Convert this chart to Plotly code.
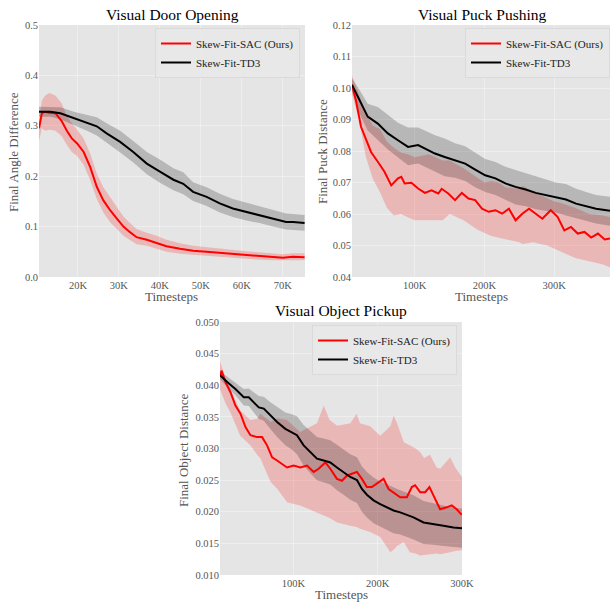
import plotly.graph_objects as go

# ---------------- data (x in thousands of timesteps) ----------------
door_sac_x = [10.5, 11.2, 12, 13, 14.5, 16, 17.3, 18.5, 19.8, 21.4, 23, 24.6, 26.2, 27.9, 29.5, 31.1,
              32.7, 34.3, 36.8, 39.2, 41.6, 44.9, 48.1, 51.4, 54.6, 57.8, 61.1, 64.3, 67.6, 70, 72.4, 75.3]
door_sac_y = [0.295, 0.325, 0.328, 0.326, 0.325, 0.31, 0.29, 0.275, 0.265, 0.248, 0.218, 0.179, 0.152,
              0.132, 0.116, 0.1, 0.089, 0.079, 0.074, 0.068, 0.061, 0.056, 0.052, 0.05, 0.048, 0.045,
              0.043, 0.041, 0.04, 0.038, 0.04, 0.039]
door_sac_hi = [0.31, 0.35, 0.36, 0.365, 0.36, 0.345, 0.32, 0.305, 0.292, 0.275, 0.245, 0.205, 0.178,
               0.157, 0.138, 0.12, 0.107, 0.095, 0.088, 0.082, 0.074, 0.067, 0.062, 0.059, 0.057, 0.054,
               0.051, 0.049, 0.047, 0.045, 0.047, 0.047]
door_sac_lo = [0.27, 0.295, 0.29, 0.292, 0.29, 0.28, 0.262, 0.248, 0.24, 0.222, 0.192, 0.155, 0.128,
               0.108, 0.095, 0.082, 0.073, 0.065, 0.062, 0.056, 0.05, 0.046, 0.043, 0.042, 0.04, 0.038,
               0.036, 0.034, 0.033, 0.032, 0.033, 0.033]

door_td3_x = [10.5, 13.3, 15.7, 19, 22.2, 24.6, 27, 30.3, 33.5, 36.8, 40, 43.3, 45.7, 48.1, 51.4, 54.6,
              57.8, 61.1, 64.3, 67.6, 70.8, 72.5, 75.3]
door_td3_y = [0.328, 0.328, 0.325, 0.315, 0.306, 0.299, 0.285, 0.268, 0.248, 0.225, 0.209, 0.193, 0.185,
              0.169, 0.159, 0.146, 0.136, 0.129, 0.123, 0.116, 0.109, 0.109, 0.107]
door_td3_hi = [0.338, 0.338, 0.337, 0.328, 0.322, 0.317, 0.305, 0.29, 0.27, 0.248, 0.233, 0.216, 0.208,
               0.188, 0.178, 0.165, 0.155, 0.148, 0.141, 0.134, 0.126, 0.125, 0.123]
door_td3_lo = [0.318, 0.318, 0.313, 0.302, 0.29, 0.281, 0.266, 0.247, 0.227, 0.204, 0.187, 0.172, 0.164,
               0.151, 0.141, 0.128, 0.119, 0.112, 0.107, 0.1, 0.094, 0.094, 0.092]

puck_sac_x = [10, 15.7, 22.9, 30.1, 37.3, 47, 56.6, 66.3, 75.9, 80.7, 85.5, 95.2, 104.8, 114.5, 124,
              133.7, 138.6, 148, 157.8, 167.5, 177, 186.7, 196.4, 206, 215.7, 225.3, 235, 244.6, 254.2,
              263.9, 273.5, 283, 295, 304.8, 314.5, 324, 333.7, 343.4, 353, 362.7, 372.3, 380]
puck_sac_y = [0.101, 0.096, 0.0877, 0.0834, 0.0797, 0.0766, 0.0734, 0.0691, 0.0713, 0.0718, 0.0697,
              0.0699, 0.0681, 0.0667, 0.0675, 0.0665, 0.068, 0.0665, 0.0644, 0.0667, 0.0649, 0.0644,
              0.0617, 0.0607, 0.0612, 0.0601, 0.0617, 0.058, 0.0601, 0.0617, 0.0601, 0.0585, 0.0612,
              0.0591, 0.0548, 0.0559, 0.0538, 0.0543, 0.0525, 0.0538, 0.0519, 0.0522]
puck_sac_band_x = [10, 20, 30, 40, 50, 60, 70, 80, 90, 100, 120, 140, 150, 170, 180, 190, 200, 210, 220,
                   230, 250, 255, 270, 280, 290, 300, 310, 330, 350, 370, 380]
puck_sac_hi = [0.104, 0.098, 0.092, 0.088, 0.087, 0.083, 0.081, 0.0795, 0.079, 0.078, 0.079, 0.077,
               0.077, 0.0745, 0.073, 0.0715, 0.070, 0.0705, 0.070, 0.0685, 0.068, 0.069, 0.067, 0.066,
               0.065, 0.064, 0.0635, 0.062, 0.060, 0.0595, 0.059]
puck_sac_lo = [0.098, 0.09, 0.078, 0.071, 0.067, 0.062, 0.0595, 0.06, 0.059, 0.058, 0.058, 0.058, 0.06,
               0.058, 0.0565, 0.055, 0.054, 0.053, 0.0525, 0.052, 0.051, 0.0505, 0.051, 0.0505, 0.05,
               0.049, 0.048, 0.046, 0.045, 0.044, 0.043]

puck_td3_x = [10, 20.5, 32.5, 47, 61.4, 75.9, 90.4, 104.8, 114.5, 129, 143, 157.8, 172.3, 186.7, 201,
              215.7, 230, 244.6, 259, 273.5, 288, 302.4, 316.9, 331.3, 345.8, 360, 380]
puck_td3_y = [0.101, 0.0962, 0.0909, 0.0887, 0.0856, 0.0834, 0.0813, 0.0819, 0.0808, 0.0792, 0.0781,
              0.0771, 0.076, 0.0741, 0.0723, 0.0713, 0.0697, 0.0686, 0.0678, 0.0667, 0.066, 0.0654,
              0.0646, 0.0633, 0.0625, 0.0617, 0.061]
puck_td3_hi = [0.103, 0.0995, 0.095, 0.094, 0.0915, 0.089, 0.0875, 0.0875, 0.0865, 0.085, 0.084, 0.0825,
               0.0815, 0.0795, 0.0775, 0.0765, 0.075, 0.074, 0.073, 0.072, 0.071, 0.070, 0.0695, 0.068,
               0.067, 0.066, 0.0655]
puck_td3_lo = [0.099, 0.092, 0.0865, 0.0835, 0.0805, 0.078, 0.0755, 0.076, 0.075, 0.0735, 0.072, 0.0715,
               0.0705, 0.0685, 0.067, 0.066, 0.0645, 0.063, 0.0625, 0.0615, 0.061, 0.0605, 0.0595,
               0.0585, 0.0578, 0.057, 0.0563]

pick_sac_x = [13, 14.8, 19.5, 25.4, 31.3, 37.3, 43.2, 49.1, 57, 62.9, 68.8, 74.8, 80.7, 86.6, 92.5, 100.4,
              108.3, 116.2, 124.1, 130, 137.9, 143.8, 151.7, 157.6, 163.5, 169.5, 175.4, 181.3, 187.2,
              193.1, 201, 207, 212.9, 218.8, 226.7, 234.6, 240.5, 244.4, 250.4, 256.3, 261.4, 266.1,
              274, 281.9, 287.8, 293.7, 299.7]
pick_sac_y = [0.0413, 0.0423, 0.0405, 0.0389, 0.0368, 0.0355, 0.0334, 0.0321, 0.0318, 0.0318, 0.0305,
              0.0286, 0.0281, 0.0276, 0.027, 0.0273, 0.027, 0.0273, 0.0263, 0.0268, 0.0278, 0.0268,
              0.0252, 0.0249, 0.0257, 0.026, 0.0263, 0.0252, 0.0239, 0.0239, 0.0247, 0.0252, 0.0236,
              0.0231, 0.0223, 0.0223, 0.0239, 0.0242, 0.0231, 0.0231, 0.0239, 0.0226, 0.0204, 0.0207,
              0.021, 0.0204, 0.0195]
pick_sac_band_x = [13, 20, 25, 37, 49, 57, 61, 73, 81, 92.5, 108, 122, 128, 136, 143, 152, 167.5, 175,
                   179, 191, 203, 215, 219, 223, 231, 238, 245, 250, 255, 262, 270, 274, 286, 292, 300]
pick_sac_hi = [0.0438, 0.041, 0.0395, 0.036, 0.0345, 0.0347, 0.0355, 0.0342, 0.0348, 0.0345, 0.0326,
               0.0336, 0.034, 0.0368, 0.0345, 0.0336, 0.034, 0.0355, 0.034, 0.0335, 0.032, 0.0335,
               0.0352, 0.034, 0.031, 0.0305, 0.030, 0.0295, 0.0285, 0.029, 0.027, 0.0268, 0.0286,
               0.027, 0.0255]
pick_sac_lo = [0.0394, 0.037, 0.0358, 0.032, 0.0305, 0.029, 0.0284, 0.0247, 0.0236, 0.0215, 0.021,
               0.0202, 0.0199, 0.0194, 0.019, 0.0183, 0.0178, 0.0176, 0.0173, 0.0168, 0.016, 0.0136,
               0.014, 0.0146, 0.0152, 0.0136, 0.0134, 0.0131, 0.0132, 0.0133, 0.0134, 0.0133, 0.0136,
               0.0138, 0.0139]

pick_td3_x = [13, 21.5, 31.3, 41.2, 47.1, 53, 59, 64.9, 72.8, 80.7, 90.5, 98.4, 104.3, 112.2, 120.1, 128,
              135.9, 143.8, 151.7, 159.6, 167.5, 175.4, 181.3, 187.2, 195.1, 203, 211, 218.8, 226.7,
              234.6, 242.5, 254.4, 266.1, 278, 289.8, 300]
pick_td3_y = [0.0416, 0.0405, 0.0394, 0.0381, 0.0381, 0.0373, 0.0365, 0.0363, 0.0352, 0.0342, 0.0331,
              0.0326, 0.0321, 0.0305, 0.0294, 0.0284, 0.0281, 0.0278, 0.027, 0.0263, 0.0255, 0.025,
              0.0236, 0.0227, 0.0218, 0.0212, 0.0207, 0.0202, 0.0199, 0.0195, 0.0191, 0.0183, 0.0181,
              0.0178, 0.0175, 0.0174]
pick_td3_hi = [0.0422, 0.0413, 0.0404, 0.0394, 0.0395, 0.0389, 0.0383, 0.0382, 0.0373, 0.0366, 0.0357,
               0.0354, 0.0351, 0.0337, 0.0327, 0.0318, 0.0316, 0.0313, 0.0306, 0.0299, 0.0291, 0.0286,
               0.0272, 0.0263, 0.0254, 0.0248, 0.0243, 0.0238, 0.0234, 0.023, 0.0226, 0.0217, 0.0214,
               0.021, 0.0206, 0.0205]
pick_td3_lo = [0.041, 0.0397, 0.0384, 0.0368, 0.0367, 0.0357, 0.0347, 0.0344, 0.0331, 0.0318, 0.0305,
               0.0298, 0.0291, 0.0273, 0.0261, 0.025, 0.0246, 0.0243, 0.0234, 0.0227, 0.0219, 0.0214,
               0.02, 0.0191, 0.0182, 0.0176, 0.0171, 0.0166, 0.0164, 0.016, 0.0156, 0.0149, 0.0148,
               0.0146, 0.0144, 0.0143]

series_names = ["Skew-Fit-SAC (Ours)", "Skew-Fit-TD3"]
titles = ["Visual Door Opening", "Visual Puck Pushing", "Visual Object Pickup"]
y_titles = ["Final Angle Difference", "Final Puck Distance", "Final Object Distance"]
x_title = "Timesteps"
door_xticks = [20, 30, 40, 50, 60, 70]
door_yticks = [0.0, 0.1, 0.2, 0.3, 0.4, 0.5]
puck_xticks = [100, 200, 300]
puck_yticks = [0.04, 0.05, 0.06, 0.07, 0.08, 0.09, 0.10, 0.11, 0.12]
pick_xticks = [100, 200, 300]
pick_yticks = [0.010, 0.015, 0.020, 0.025, 0.030, 0.035, 0.040, 0.045, 0.050]

# ---------------- styling ----------------
FONT = "Liberation Serif"
RED = "#ff0000"
RED_BAND = "rgba(255,0,0,0.2)"
BLK_BAND = "rgba(0,0,0,0.2)"
TICKCOL = "#555555"
BG = "#e5e5e5"
GRID = "rgba(255,255,255,0.35)"
W, H = 610, 603

fig = go.Figure()


def band(x, lo, hi, color, xa, ya):
    fig.add_trace(go.Scatter(x=list(x) + list(x)[::-1], y=list(hi) + list(lo)[::-1],
                             fill="toself", fillcolor=color, line=dict(width=0),
                             mode="lines", showlegend=False, hoverinfo="skip",
                             xaxis=xa, yaxis=ya))


def line(x, y, color, name, xa, ya, legend):
    fig.add_trace(go.Scatter(x=x, y=y, mode="lines", line=dict(color=color, width=2),
                             name=name, xaxis=xa, yaxis=ya, legend=legend))


# panel 1
band(door_sac_x, door_sac_lo, door_sac_hi, RED_BAND, "x", "y")
band(door_td3_x, door_td3_lo, door_td3_hi, BLK_BAND, "x", "y")
line(door_sac_x, door_sac_y, RED, series_names[0], "x", "y", "legend")
line(door_td3_x, door_td3_y, "black", series_names[1], "x", "y", "legend")
# panel 2
band(puck_sac_band_x, puck_sac_lo, puck_sac_hi, RED_BAND, "x2", "y2")
band(puck_td3_x, puck_td3_lo, puck_td3_hi, BLK_BAND, "x2", "y2")
line(puck_sac_x, puck_sac_y, RED, series_names[0], "x2", "y2", "legend2")
line(puck_td3_x, puck_td3_y, "black", series_names[1], "x2", "y2", "legend2")
# panel 3
band(pick_sac_band_x, pick_sac_lo, pick_sac_hi, RED_BAND, "x3", "y3")
band(pick_td3_x, pick_td3_lo, pick_td3_hi, BLK_BAND, "x3", "y3")
line(pick_sac_x, pick_sac_y, RED, series_names[0], "x3", "y3", "legend3")
line(pick_td3_x, pick_td3_y, "black", series_names[1], "x3", "y3", "legend3")


def px_x(p):
    return p / W


def px_y(p):
    return 1 - p / H


def xaxis(dom, anchor, rng, ticks):
    return dict(domain=dom, anchor=anchor, range=rng, tickvals=ticks,
                ticktext=[f"{t}K" for t in ticks], showgrid=True,
                gridcolor=GRID, gridwidth=1, zeroline=False,
                showline=False, ticks="", tickfont=dict(family=FONT, size=10.5, color=TICKCOL))


def yaxis(dom, anchor, rng, ticks, fmt):
    return dict(domain=dom, anchor=anchor, range=rng, tickvals=ticks,
                ticktext=[format(t, fmt) for t in ticks], showgrid=True,
                gridcolor=GRID, gridwidth=1, zeroline=False,
                showline=False, ticks="", tickfont=dict(family=FONT, size=10.5, color=TICKCOL))


top_dom = [px_y(277), px_y(25)]
bot_dom = [px_y(575), px_y(322)]

legend_style = dict(bgcolor="rgba(232,232,232,0.9)", bordercolor="#dadada", borderwidth=1,
                    font=dict(family=FONT, size=11, color="#222222"), xanchor="right",
                    yanchor="top", tracegroupgap=0, itemwidth=30,
                    xref="container", yref="container")

title_font = dict(family=FONT, size=15.5, color="black")
axis_title_font = dict(family=FONT, size=13, color=TICKCOL)


def text(t, x, y, font, angle=0):
    return dict(text=t, x=px_x(x), y=px_y(y), xref="paper", yref="paper", xanchor="center",
                yanchor="middle", showarrow=False, font=font, textangle=angle)


annotations = [
    text(titles[0], 172, 14, title_font),
    text(titles[1], 482, 14, title_font),
    text(titles[2], 341, 310, title_font),
    text(x_title, 171.5, 296, axis_title_font),
    text(x_title, 481.5, 296, axis_title_font),
    text(x_title, 341, 594, axis_title_font),
    text(y_titles[0], 14, 152, axis_title_font, -90),
    text(y_titles[1], 323, 152, axis_title_font, -90),
    text(y_titles[2], 183, 450, axis_title_font, -90),
]

fig.update_layout(
    width=W, height=H, margin=dict(l=0, r=0, t=0, b=0, autoexpand=False),
    font=dict(family=FONT),
    paper_bgcolor="white", plot_bgcolor=BG,
    xaxis=xaxis([px_x(39), px_x(305)], "y", [10.5, 75.4], door_xticks),
    yaxis=yaxis(top_dom, "x", [0, 0.5], door_yticks, ".1f"),
    xaxis2=xaxis([px_x(352), 1.0], "y2", [10, 380], puck_xticks),
    yaxis2=yaxis(top_dom, "x2", [0.04, 0.12], puck_yticks, ".2f"),
    xaxis3=xaxis([px_x(220), px_x(462)], "y3", [13, 300], pick_xticks),
    yaxis3=yaxis(bot_dom, "x3", [0.010, 0.050], pick_yticks, ".3f"),
    legend=dict(x=px_x(300), y=px_y(28), **legend_style),
    legend2=dict(x=px_x(610), y=px_y(28), **legend_style),
    legend3=dict(x=px_x(457), y=px_y(325), **legend_style),
    annotations=annotations,
    showlegend=True,
)

fig.write_html("out.html", config={"displayModeBar": False},
               post_script="document.body.style.margin='0';document.body.style.overflow='hidden';")
